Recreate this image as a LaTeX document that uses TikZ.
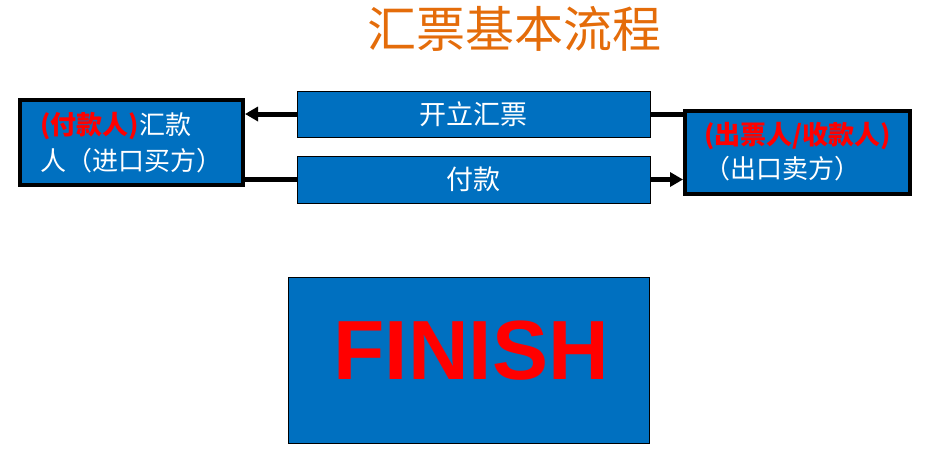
\documentclass[tikz,border=0pt]{standalone}
\usepackage{fontspec}
\setmainfont{Liberation Sans}
\newfontfamily\cjk{Noto Sans CJK SC}
\usetikzlibrary{arrows.meta}
\definecolor{boxblue}{HTML}{0070C0}
\definecolor{titleorange}{HTML}{E46C0A}
\definecolor{labelred}{HTML}{FF0000}
\begin{document}
\begin{tikzpicture}[x=1pt,y=-1pt,
    party/.style={rectangle, draw=black, line width=4pt, fill=boxblue, text=white, align=left, font=\cjk\fontsize{26}{36}\selectfont},
    step-box/.style={rectangle, draw=black, line width=1pt, fill=boxblue, text=white, minimum width=353pt, font=\cjk\fontsize{27}{32}\selectfont},
    flow-line/.style={draw=black, line width=5pt},
    flow-arrow/.style={draw=black, line width=5pt, -{Triangle[length=13pt,width=14pt]}}]
        \useasboundingbox (0,0) rectangle (925,453);

        \node[text=titleorange, font=\cjk\fontsize{49}{54}\selectfont] (title) at(514,29){汇票基本流程};

        \node[party, minimum width=223pt, minimum height=85pt] (payer-box) at(131.5,142.5){{\color{labelred}\bfseries(付款人)}汇款\\人（进口买方）};
        \node[party, minimum width=225pt, minimum height=83pt, font=\cjk\fontsize{26}{34}\selectfont] (drawer-box) at(797.5,152){{\color{labelred}\bfseries(出票人/收款人)}\\（出口卖方）};

        \node[step-box, minimum height=46pt] (issue-bill) at(473.5,114){开立汇票};
        \node[step-box, minimum height=47pt] (pay-bill) at(473.5,179.5){付款};

        \draw [flow-arrow] (issue-bill.west) -- (issue-bill.west -| payer-box.east);
        \draw [flow-line] (issue-bill.east) -- (issue-bill.east -| drawer-box.west);
        \draw [flow-line] (payer-box.east |- pay-bill.west) -- (pay-bill.west);
        \draw [flow-arrow] (pay-bill.east) -- (pay-bill.east -| drawer-box.west);

        \node[rectangle, draw=black, line width=1pt, fill=boxblue, minimum width=361pt, minimum height=166pt] (finish-box) at(469,360){};
        \node[text=labelred, font=\bfseries\fontsize{84}{90}\selectfont] (finish) at(471,351){FINISH};

      \end{tikzpicture}
\end{document}
